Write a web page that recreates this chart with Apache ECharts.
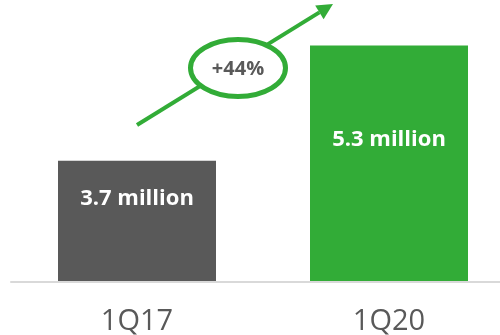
<!DOCTYPE html>
<html>
<head>
<meta charset="utf-8">
<script src="https://cdn.jsdelivr.net/npm/echarts@6/dist/echarts.min.js"></script>
<style>
  html, body { margin: 0; padding: 0; background: #fff; }
  #chart { width: 500px; height: 335px; }
</style>
</head>
<body>
<div id="chart"></div>
<script>
// Subscribers by quarter, in millions
const quarters = ['1Q17', '1Q20'];
const subscribers = [3.7, 5.3];
const growthLabel = '+44%';

const GRAY = '#595959';
const GREEN = '#32ac37';
const FONT = '"Open Sans", "Liberation Sans", sans-serif';

const barColors = [GRAY, GREEN];
// vertical position of each value label, measured from the bar top
const labelOffsets = [38, 94];

const chart = echarts.init(document.getElementById('chart'), null, { renderer: 'canvas' });

// arrow geometry (annotation showing growth)
const tip = [333, 4];
const tail = [137, 125];
const dx = tip[0] - tail[0], dy = tip[1] - tail[1];
const len = Math.hypot(dx, dy);
const ux = dx / len, uy = dy / len;
const headLen = 16, headHalf = 8;
const base = [tip[0] - ux * headLen, tip[1] - uy * headLen];
const nx = -uy, ny = ux;

chart.setOption({
  animation: false,
  grid: { left: 11, width: 504, top: 0, bottom: 53.5, outerBoundsMode: 'none', containLabel: false },
  xAxis: {
    type: 'category',
    data: quarters,
    z: 3,
    axisLine: { lineStyle: { color: '#d9d9d9', width: 2 } },
    axisTick: { show: false },
    axisLabel: { color: GRAY, fontSize: 29, fontFamily: FONT, margin: 26 }
  },
  yAxis: {
    type: 'value',
    min: 2.025,
    max: 5.931,
    show: false
  },
  series: [{
    type: 'bar',
    barWidth: 158,
    data: subscribers.map((v, i) => ({
      value: v,
      itemStyle: { color: barColors[i] },
      label: { position: ['50%', labelOffsets[i]] }
    })),
    label: {
      show: true,
      formatter: '{c} million',
      align: 'center',
      verticalAlign: 'middle',
      color: '#fff',
      fontSize: 22,
      fontWeight: 'bold',
      fontFamily: FONT
    }
  }],
  graphic: [
    {
      type: 'line', z: 10,
      shape: { x1: tail[0], y1: tail[1], x2: base[0], y2: base[1] },
      style: { stroke: GREEN, lineWidth: 4 }
    },
    {
      type: 'polygon', z: 10,
      shape: { points: [tip, [base[0] + nx * headHalf, base[1] + ny * headHalf], [base[0] - nx * headHalf, base[1] - ny * headHalf]] },
      style: { fill: GREEN }
    },
    {
      type: 'ellipse', z: 11,
      shape: { cx: 238, cy: 68, rx: 47.5, ry: 28.5 },
      style: { fill: '#fff', stroke: GREEN, lineWidth: 5 }
    },
    {
      type: 'text', z: 12,
      style: {
        text: growthLabel, x: 238, y: 69,
        align: 'center', verticalAlign: 'middle',
        fontSize: 20, fontWeight: 'bold', fontFamily: FONT, fill: GRAY
      }
    }
  ]
});
</script>
</body>
</html>
